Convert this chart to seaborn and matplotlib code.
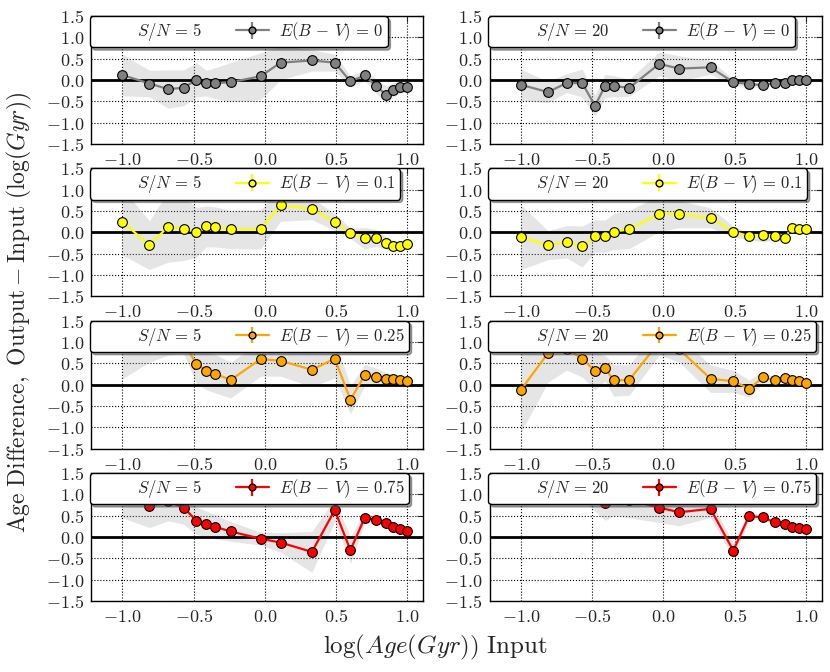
import numpy as np
import pandas as pd
import seaborn as sns
import matplotlib
matplotlib.use("Agg")
import matplotlib.pyplot as plt

# log age grid (input)
log_age = [-1.0, -0.81, -0.68, -0.57, -0.48, -0.41, -0.35, -0.24, -0.03, 0.11,
           0.33, 0.49, 0.60, 0.70, 0.78, 0.85, 0.90, 0.95, 1.0]

ebv_labels = ['0', '0.1', '0.25', '0.75']
ebv_colors = ['gray', 'yellow', 'orange', 'red']
snr_labels = ['5', '20']

# age difference (output - input) and spread, S/N = 5
diff_sn5_ebv0 = [0.12, -0.08, -0.21, -0.18, 0.01, -0.07, -0.07, -0.05, 0.09, 0.41,
                 0.46, 0.41, -0.03, 0.11, -0.14, -0.34, -0.23, -0.17, -0.15]
err_sn5_ebv0 = [0.49, 0.31, 0.45, 0.42, 0.40, 0.30, 0.36, 0.46, 0.55, 0.40,
                0.25, 0.20, 0.13, 0.12, 0.17, 0.20, 0.17, 0.14, 0.12]
diff_sn5_ebv01 = [0.25, -0.30, 0.13, 0.09, 0.0, 0.14, 0.13, 0.07, 0.07, 0.64,
                  0.55, 0.24, -0.02, -0.14, -0.13, -0.25, -0.31, -0.31, -0.27]
err_sn5_ebv01 = [0.78, 0.57, 0.83, 0.75, 0.58, 0.48, 0.47, 0.45, 0.46, 0.38,
                 0.25, 0.20, 0.12, 0.25, 0.20, 0.15, 0.12, 0.10, 0.08]
diff_sn5_ebv025 = [1.0, 1.2, 1.3, 1.0, 0.48, 0.33, 0.26, 0.11, 0.60, 0.56,
                   0.35, 0.61, -0.35, 0.22, 0.19, 0.14, 0.14, 0.10, 0.08]
err_sn5_ebv025 = [0.86, 0.67, 0.61, 0.27, 0.45, 0.45, 0.45, 0.42, 0.40, 0.36,
                  0.40, 0.45, 0.33, 0.25, 0.20, 0.15, 0.12, 0.10, 0.08]
diff_sn5_ebv075 = [1.1, 0.73, 0.84, 0.69, 0.38, 0.31, 0.24, 0.13, -0.04, -0.13,
                   -0.35, 0.63, -0.31, 0.45, 0.40, 0.32, 0.24, 0.19, 0.14]
err_sn5_ebv075 = [0.65, 0.51, 0.46, 0.39, 0.32, 0.30, 0.28, 0.23, 0.15, 0.23,
                  0.48, 0.26, 0.31, 0.12, 0.08, 0.08, 0.08, 0.08, 0.08]

# S/N = 20
diff_sn20_ebv0 = [-0.11, -0.28, -0.07, -0.07, -0.60, -0.14, -0.14, -0.18, 0.38, 0.27,
                  0.30, -0.05, -0.09, -0.12, -0.06, -0.07, 0.01, 0.01, 0.0]
err_sn20_ebv0 = [0.37, 0.25, 0.22, 0.33, 0.25, 0.27, 0.25, 0.20, 0.28, 0.30,
                 0.16, 0.08, 0.06, 0.06, 0.06, 0.06, 0.05, 0.05, 0.05]
diff_sn20_ebv01 = [-0.11, -0.30, -0.22, -0.33, -0.08, -0.09, 0.02, 0.07, 0.44, 0.43,
                   0.34, 0.02, -0.09, -0.07, -0.09, -0.13, 0.10, 0.07, 0.07]
err_sn20_ebv01 = [0.76, 0.34, 0.38, 0.48, 0.38, 0.38, 0.42, 0.45, 0.42, 0.32,
                  0.23, 0.13, 0.08, 0.15, 0.10, 0.08, 0.05, 0.05, 0.05]
diff_sn20_ebv025 = [-0.12, 0.74, 0.84, 0.61, 0.32, 0.39, 0.10, 0.11, 1.0, 0.83,
                    0.14, 0.08, -0.09, 0.17, 0.10, 0.15, 0.12, 0.08, 0.03]
err_sn20_ebv025 = [1.0, 0.68, 0.50, 0.43, 0.44, 0.30, 0.37, 0.36, 0.30, 0.30,
                   0.32, 0.26, 0.20, 0.13, 0.08, 0.08, 0.08, 0.08, 0.08]
diff_sn20_ebv075 = [1.2, 1.3, 1.25, 1.15, 0.90, 0.79, 0.95, 0.87, 0.69, 0.58,
                    0.66, -0.32, 0.49, 0.46, 0.34, 0.30, 0.24, 0.22, 0.19]
err_sn20_ebv075 = [0.25, 0.25, 0.25, 0.25, 0.30, 0.40, 0.45, 0.42, 0.35, 0.32,
                   0.20, 0.18, 0.08, 0.05, 0.05, 0.05, 0.05, 0.05, 0.05]

diffs = [[diff_sn5_ebv0, diff_sn20_ebv0],
         [diff_sn5_ebv01, diff_sn20_ebv01],
         [diff_sn5_ebv025, diff_sn20_ebv025],
         [diff_sn5_ebv075, diff_sn20_ebv075]]
errs = [[err_sn5_ebv0, err_sn20_ebv0],
        [err_sn5_ebv01, err_sn20_ebv01],
        [err_sn5_ebv025, err_sn20_ebv025],
        [err_sn5_ebv075, err_sn20_ebv075]]

xticks = [-1.0, -0.5, 0.0, 0.5, 1.0]
yticks = [-1.5, -1.0, -0.5, 0.0, 0.5, 1.0, 1.5]


def tex_tick(v):
    return r'$%.1f$' % v if v >= 0 else r'$-%.1f$' % -v


sns.set_style('white')
plt.rcParams['mathtext.fontset'] = 'cm'
plt.rcParams['font.family'] = ['DejaVu Serif']

fig, axes = plt.subplots(4, 2, figsize=(8.3, 6.72), dpi=100)
fig.subplots_adjust(left=0.1096, right=0.990, bottom=0.1057, top=0.976,
                    wspace=0.2, hspace=0.19)

for i in range(4):
    for j in range(2):
        ax = axes[i, j]
        df = pd.DataFrame({'x': log_age, 'y': diffs[i][j], 'err': errs[i][j]})
        ax.fill_between(df['x'], df['y'] - df['err'], df['y'] + df['err'],
                        color='0.6', alpha=0.25, lw=0, zorder=1)
        ax.axhline(0, color='k', lw=2, zorder=2)
        sns.lineplot(data=df, x='x', y='y', ax=ax, color=ebv_colors[i],
                     marker='o', markersize=7, markeredgecolor='k',
                     markeredgewidth=0.8, linewidth=1.6, zorder=3,
                     legend=False)
        # legend entries
        ax.plot([], [], ' ', label=r'$S/N\,=\,%s$' % snr_labels[j])
        ax.errorbar([], [], yerr=[], fmt='o-', color=ebv_colors[i], mec='k',
                    ms=7, capsize=3, lw=1.6,
                    label=r'$E(B\,-\,V)\,=\,%s$' % ebv_labels[i])
        leg = ax.legend(loc='upper left', bbox_to_anchor=(-0.004, 1.0),
                        ncol=2, shadow=True, fancybox=True,
                        borderaxespad=0, borderpad=0.25, fontsize=12,
                        framealpha=1, numpoints=1, markerscale=0.7,
                        handletextpad=0.6)
        leg.get_frame().set_edgecolor('k')

        ax.set_xlim(-1.22, 1.11)
        ax.set_ylim(-1.5, 1.5)
        ax.set_xticks(xticks)
        ax.set_yticks(yticks)
        ax.set_xticklabels([tex_tick(v) for v in xticks])
        ax.set_yticklabels([tex_tick(v) for v in yticks])
        ax.grid(True, color='k', linestyle=':', linewidth=0.8)
        ax.tick_params(direction='in', top=True, right=True, length=4,
                       labelsize=13, pad=5)
        ax.set_xlabel('')
        ax.set_ylabel('')
        for s in ax.spines.values():
            s.set_color('k')
            s.set_linewidth(1)

fig.text(0.524, 0.037, r'$\log(Age(Gyr))\ \mathrm{Input}$', ha='center',
         va='center', fontsize=18)
fig.text(0.024, 0.536,
         r'$\mathrm{Age\ Difference,\ Output} - \mathrm{Input}\ (\log(Gyr))$',
         rotation=90, ha='center', va='center', fontsize=17)

fig.savefig('out.png', dpi=100)
